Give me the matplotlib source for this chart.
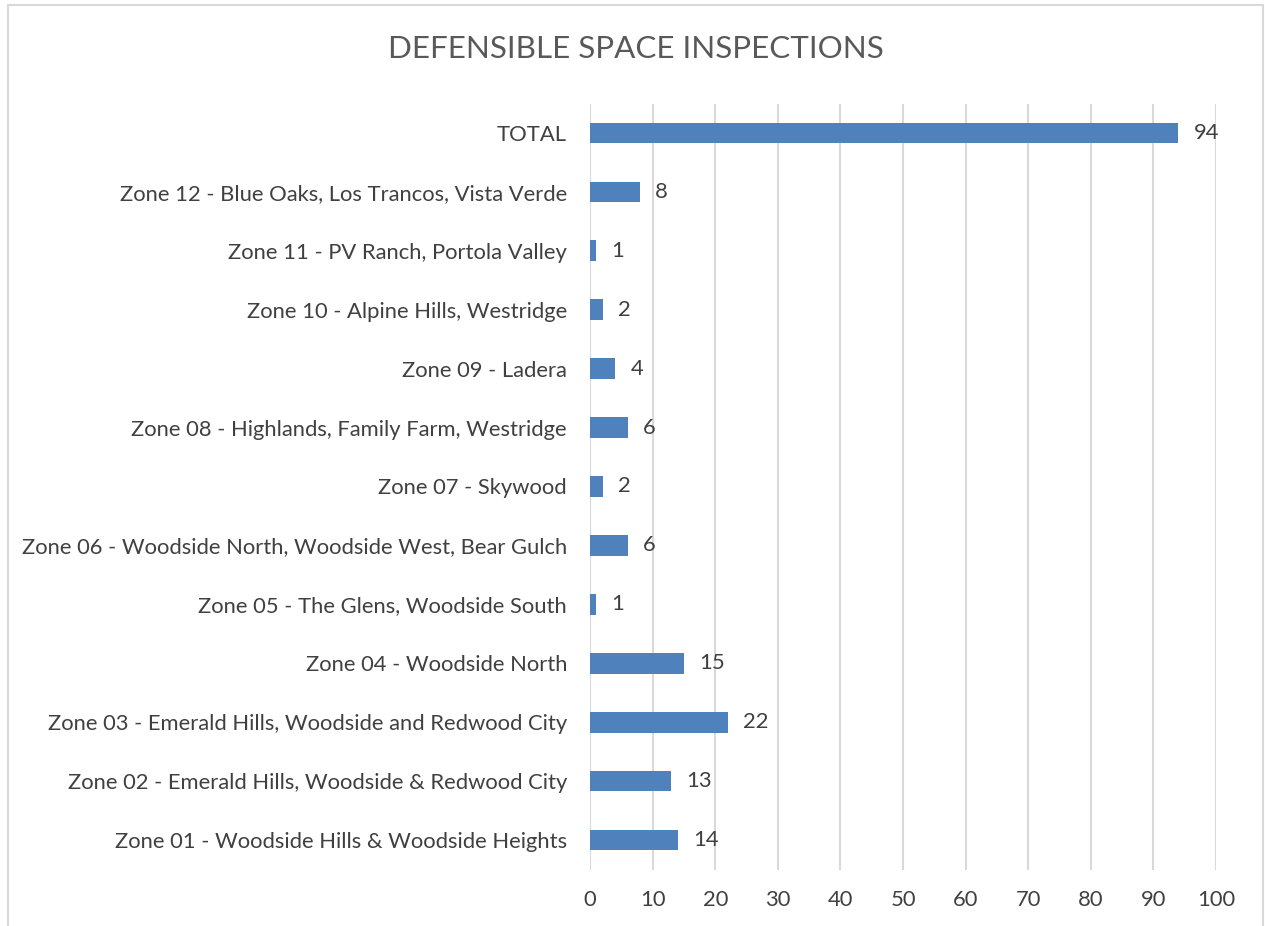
import matplotlib
matplotlib.use('Agg')
import matplotlib.pyplot as plt
from matplotlib.patches import Rectangle

# Data (top to bottom as shown)
zones = [
    "TOTAL",
    "Zone 12 - Blue Oaks, Los Trancos, Vista Verde",
    "Zone 11 - PV Ranch, Portola Valley",
    "Zone 10 - Alpine Hills, Westridge",
    "Zone 09 - Ladera",
    "Zone 08 - Highlands, Family Farm, Westridge",
    "Zone 07 - Skywood",
    "Zone 06 - Woodside North, Woodside West, Bear Gulch",
    "Zone 05 - The Glens, Woodside South",
    "Zone 04 - Woodside North",
    "Zone 03 - Emerald Hills, Woodside and Redwood City",
    "Zone 02 - Emerald Hills, Woodside & Redwood City",
    "Zone 01 - Woodside Hills & Woodside Heights",
]
inspections = [94, 8, 1, 2, 4, 6, 2, 6, 1, 15, 22, 13, 14]
x_ticks = [0, 10, 20, 30, 40, 50, 60, 70, 80, 90, 100]

plt.rcParams['font.family'] = ['Lato', 'DejaVu Sans']
bar_color = '#4F81BD'
text_color = '#404040'
grid_color = '#D9D9D9'
fs = 15.8

fig = plt.figure(figsize=(12.65, 9.26), dpi=100)
ax = fig.add_axes([590 / 1265, 1 - 869.5 / 926, (1216 - 590) / 1265, (869.5 - 103.5) / 926])

pos = list(range(len(zones)))[::-1]
bars = ax.barh(pos, inspections, height=0.35, color=bar_color, zorder=3)

for y, v in zip(pos, inspections):
    ax.annotate(str(v), (v, y), xytext=(11, 0), textcoords='offset points',
                va='center', ha='left', fontsize=fs, color=text_color)

ax.set_xlim(0, 100)
ax.set_ylim(-0.5, len(zones) - 0.5)
ax.set_xticks(x_ticks)
ax.set_yticks(pos)
ax.set_yticklabels(zones)
ax.tick_params(axis='both', length=0, labelsize=fs, labelcolor=text_color)
ax.tick_params(axis='x', pad=15)
ax.tick_params(axis='y', pad=16.5)
ax.grid(axis='x', color=grid_color, linewidth=1.5, zorder=0)
for s in ax.spines.values():
    s.set_visible(False)

fig.text(636 / 1265, 1 - 49 / 926, "DEFENSIBLE SPACE INSPECTIONS", ha='center', va='center',
         fontsize=22.6, color='#595959')

fig.patches.append(Rectangle((8 / 1265, -0.02), (1263 - 8) / 1265, 1 - 5 / 926 + 0.02,
                             transform=fig.transFigure, fill=False, edgecolor=grid_color,
                             linewidth=1.5))

fig.savefig('out.png', dpi=100)
